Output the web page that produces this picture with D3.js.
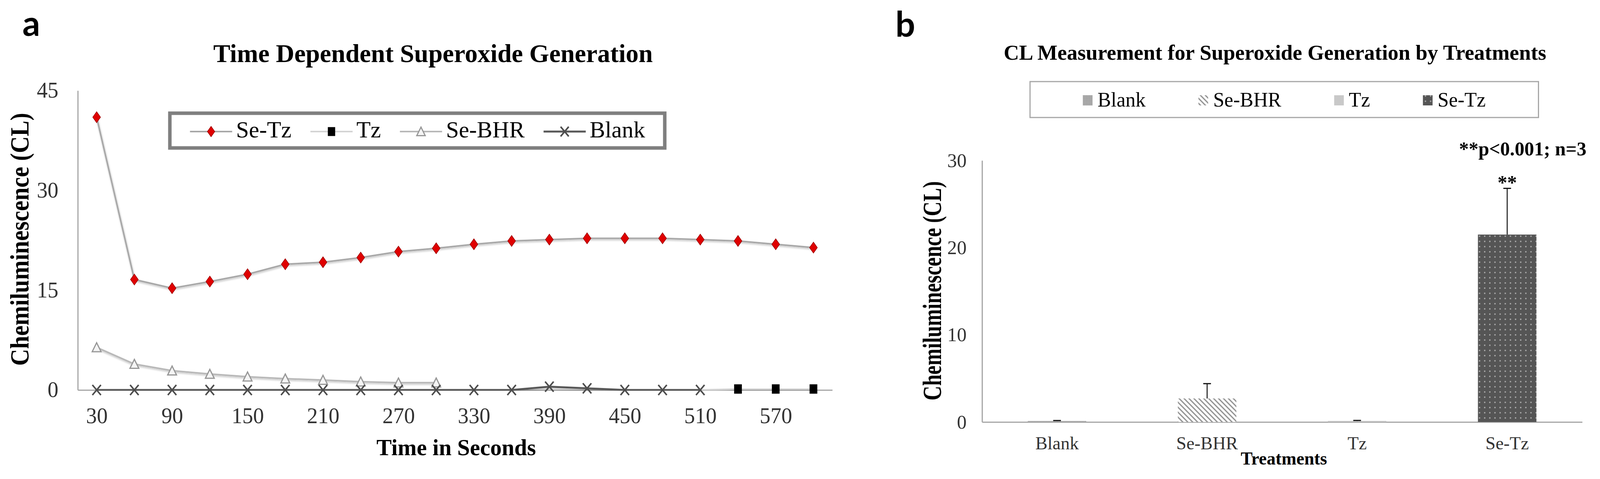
<!DOCTYPE html>
<html>
<head>
<meta charset="utf-8">
<script src="https://cdn.jsdelivr.net/npm/d3@7"></script>
<style>
html,body{margin:0;padding:0;overflow:hidden;background:#fff;width:100%;height:100%}
svg{display:block;width:100vw;height:100vh}
text{font-family:"Liberation Serif","Times New Roman",serif}
.panel{font-family:Lato,"Open Sans",sans-serif;font-weight:700;font-size:90px;fill:#000}
</style>
</head>
<body>
<svg id="chart" viewBox="0 0 4135 1227" preserveAspectRatio="none"></svg>
<script>
// panel a: time course
var times = [30,60,90,120,150,180,210,240,270,300,330,360,390,420,450,480,510,540,570,600];
var tickTimes = [30,90,150,210,270,330,390,450,510,570];
var seTz = [41.0,16.6,15.3,16.3,17.4,18.9,19.2,19.9,20.8,21.3,21.9,22.4,22.6,22.8,22.8,22.8,22.6,22.4,21.9,21.4];
var seBhr = [6.4,3.9,2.9,2.4,2.0,1.7,1.5,1.25,1.1,1.1];           // 30..300
var blank = [0,0,0,0,0,0,0,0,0,0,0,0,0.5,0.25,0,0,0];            // 30..510
var tzTimes = [510,540,570,600];
var tz = [0,0.15,0.15,0.15];
var yTicksA = [0,15,30,45];
var seriesA = ["Se-Tz","Tz","Se-BHR","Blank"];

// panel b: bars
var treatments = ["Blank","Se-BHR","Tz","Se-Tz"];
var means = [0.12,2.7,0.12,21.5];
var errs = [0.05,1.7,0.06,5.3];
var yTicksB = [0,10,20,30];

var svg = d3.select("#chart");
var defs = svg.append("defs");

var hatch = defs.append("pattern").attr("id","hatch").attr("patternUnits","userSpaceOnUse")
  .attr("width",9).attr("height",9).attr("patternTransform","rotate(-45)");
hatch.append("rect").attr("width",9).attr("height",9).attr("fill","#fff");
hatch.append("line").attr("x1",2).attr("y1",0).attr("x2",2).attr("y2",9)
  .attr("stroke","#8a8a8a").attr("stroke-width",3);

var dots = defs.append("pattern").attr("id","dots").attr("patternUnits","userSpaceOnUse")
  .attr("width",13.3).attr("height",13.3);
dots.append("rect").attr("width",13.3).attr("height",13.3).attr("fill","#555");
dots.append("rect").attr("x",5).attr("y",5).attr("width",3.2).attr("height",3.2).attr("fill","#b5b5b5");

var fine = defs.append("pattern").attr("id","fine").attr("patternUnits","userSpaceOnUse")
  .attr("width",4).attr("height",4);
fine.append("rect").attr("width",4).attr("height",4).attr("fill","#b0b0b0");
fine.append("rect").attr("width",2).attr("height",2).attr("fill","#8c8c8c");

var shadow = defs.append("filter").attr("id","sh").attr("x","-5%").attr("y","-20%").attr("width","110%").attr("height","140%");
shadow.append("feDropShadow").attr("dx",1).attr("dy",3).attr("stdDeviation",2).attr("flood-color","#000").attr("flood-opacity",0.25);

var styles = {
  "Se-Tz": {line:"#a8a8a8", w:4, shape:"diamond"},
  "Tz": {line:"#d4d4d4", w:4, shape:"square"},
  "Se-BHR": {line:"#b8b8b8", w:4, shape:"triangle"},
  "Blank": {line:"#595959", w:5, shape:"cross"}
};

function marker(g, shape, x, y, k) {
  k = k || 1;
  if (shape === "diamond") {
    g.append("path").attr("d","M"+x+","+(y-14*k)+"L"+(x+10*k)+","+y+"L"+x+","+(y+14*k)+"L"+(x-10*k)+","+y+"Z")
      .attr("fill","#e00000").attr("stroke","#a00000").attr("stroke-width",1.5);
  } else if (shape === "triangle") {
    g.append("path").attr("d","M"+x+","+(y-12*k)+"L"+(x+11.5*k)+","+(y+11*k)+"L"+(x-11.5*k)+","+(y+11*k)+"Z")
      .attr("fill","#f4f4f4").attr("stroke","#969696").attr("stroke-width",3);
  } else if (shape === "cross") {
    g.append("path").attr("d","M"+(x-11*k)+","+(y-13*k)+"L"+(x+11*k)+","+(y+13*k)+"M"+(x+11*k)+","+(y-13*k)+"L"+(x-11*k)+","+(y+13*k))
      .attr("stroke","#4d4d4d").attr("stroke-width",4).attr("fill","none");
  } else {
    g.append("rect").attr("x",x-10*k).attr("y",y-12*k).attr("width",20*k).attr("height",24*k).attr("fill","#000");
  }
}

// ---------------- panel a ----------------
var ga = svg.append("g");
var ax = d3.scalePoint().domain(times).range([201,2151]).padding(0.5);
var ay = d3.scaleLinear().domain([0,45]).range([999,232]);

ga.append("text").attr("class","panel").attr("x",58).attr("y",92).text("a");
ga.append("text").attr("x",1119).attr("y",159).attr("text-anchor","middle")
  .style("font-size","66px").style("font-weight","bold").text("Time Dependent Superoxide Generation");

var yAxA = ga.append("g").attr("transform","translate(201,0)")
  .call(d3.axisLeft(ay).tickValues(yTicksA).tickSize(0).tickPadding(50));
var xAxA = ga.append("g").attr("transform","translate(0,999)")
  .call(d3.axisBottom(ax).tickValues(tickTimes).tickSize(0).tickPadding(45));
[yAxA, xAxA].forEach(function(a){
  a.attr("font-family",null).attr("font-size",null);
  a.select(".domain").attr("stroke","#a6a6a6").attr("stroke-width",3);
  a.selectAll("text").style("font-size","56px").attr("fill","#333");
});

ga.append("text").attr("transform","translate(74,613) rotate(-90) scale(1,1.15)")
  .attr("text-anchor","middle").style("font-size","60px").style("font-weight","bold")
  .text("Chemiluminescence (CL)");
ga.append("text").attr("x",1179).attr("y",1166).attr("text-anchor","middle")
  .style("font-size","59px").style("font-weight","bold").text("Time in Seconds");

var lineA = d3.line().x(function(d){return ax(d[0]);}).y(function(d){return ay(d[1]);});
var dataA = {
  "Se-Tz": d3.zip(times, seTz),
  "Tz": d3.zip(tzTimes, tz),
  "Se-BHR": d3.zip(times.slice(0, seBhr.length), seBhr),
  "Blank": d3.zip(times.slice(0, blank.length), blank)
};
seriesA.forEach(function(name){
  var st = styles[name];
  var g = ga.append("g");
  g.append("path").attr("d", lineA(dataA[name])).attr("fill","none")
    .attr("stroke", st.line).attr("stroke-width", st.w).attr("filter","url(#sh)");
  dataA[name].forEach(function(d, i){
    if (name === "Tz" && i === 0) return; // first Tz point sits under the Blank marker
    marker(g, st.shape, ax(d[0]), ay(d[1]));
  });
});

// legend a
ga.append("rect").attr("x",439).attr("y",290).attr("width",1279).attr("height",89)
  .attr("fill","#fff").attr("stroke","#7f7f7f").attr("stroke-width",9);
var lx = 491;
seriesA.forEach(function(name){
  var st = styles[name];
  var g = ga.append("g").attr("transform","translate("+lx+",0)");
  g.append("line").attr("x1",0).attr("x2",109).attr("y1",337).attr("y2",337)
    .attr("stroke", st.line).attr("stroke-width", st.w);
  marker(g, st.shape, 54.5, 337, 0.95);
  var t = g.append("text").attr("x",119).attr("y",352).style("font-size","60px").text(name);
  lx += 119 + t.node().getComputedTextLength() + 49;
});

// ---------------- panel b ----------------
var gb = svg.append("g");
var bx = d3.scaleBand().domain(treatments).range([2538,4089]);
var by = d3.scaleLinear().domain([0,30]).range([1081,411]);
var barW = bx.bandwidth() * 0.39;
var fills = {"Blank":"url(#fine)","Se-BHR":"url(#hatch)","Tz":"#c4c4c4","Se-Tz":"url(#dots)"};

gb.append("text").attr("class","panel").attr("x",2314).attr("y",94).text("b");
gb.append("text").attr("x",3295).attr("y",153).attr("text-anchor","middle")
  .style("font-size","55px").style("font-weight","bold")
  .text("CL Measurement for Superoxide Generation by Treatments");

var yAxB = gb.append("g").attr("transform","translate(2538,0)")
  .call(d3.axisLeft(by).tickValues(yTicksB).tickSize(0).tickPadding(40));
var xAxB = gb.append("g").attr("transform","translate(0,1081)")
  .call(d3.axisBottom(bx).tickSize(0).tickPadding(37));
[yAxB, xAxB].forEach(function(a){
  a.attr("font-family",null).attr("font-size",null);
  a.select(".domain").attr("stroke","#a6a6a6").attr("stroke-width",3);
  a.selectAll("text").attr("fill","#333");
});
yAxB.selectAll("text").style("font-size","50px");
xAxB.selectAll("text").style("font-size","47px");

gb.append("text").attr("transform","translate(2432,745) rotate(-90) scale(1,1.3)")
  .attr("text-anchor","middle").style("font-size","52px").style("font-weight","bold")
  .text("Chemiluminescence (CL)");
gb.append("text").attr("x",3318).attr("y",1190).attr("text-anchor","middle")
  .style("font-size","46px").style("font-weight","bold").text("Treatments");

gb.selectAll("rect.bar").data(treatments).enter().append("rect").attr("class","bar")
  .attr("x", function(d){return bx(d) + (bx.bandwidth()-barW)/2;})
  .attr("y", function(d,i){return by(means[i]);})
  .attr("width", barW)
  .attr("height", function(d,i){return by(0) - by(means[i]);})
  .attr("fill", function(d){return fills[d];});

treatments.forEach(function(d, i){
  var cx = bx(d) + bx.bandwidth()/2;
  var yt = by(means[i] + errs[i]);
  gb.append("line").attr("x1",cx).attr("x2",cx).attr("y1",by(means[i])).attr("y2",yt)
    .attr("stroke","#111").attr("stroke-width",2.5);
  gb.append("line").attr("x1",cx-10).attr("x2",cx+10).attr("y1",yt).attr("y2",yt)
    .attr("stroke","#111").attr("stroke-width",3);
});

var last = treatments[treatments.length-1];
gb.append("text").attr("x", bx(last) + bx.bandwidth()/2)
  .attr("y", by(means[3] + errs[3]) + 2).attr("text-anchor","middle")
  .style("font-size","50px").style("font-weight","bold").text("**");
gb.append("text").attr("x",4100).attr("y",398).attr("text-anchor","end")
  .style("font-size","50px").style("font-weight","bold").text("**p<0.001; n=3");

// legend b: items spread evenly across the box
var boxX = 2662, boxW = 1314;
gb.append("rect").attr("x",boxX).attr("y",209).attr("width",boxW).attr("height",92)
  .attr("fill","#fff").attr("stroke","#a6a6a6").attr("stroke-width",3);
var items = treatments.map(function(name){
  var g = gb.append("g");
  g.append("rect").attr("x",0).attr("y",244).attr("width",25).attr("height",26)
    .attr("fill", name === "Tz" ? "#c8c8c8" : fills[name]);
  var t = g.append("text").attr("x",38).attr("y",273).style("font-size","52px").text(name);
  return {g:g, w:38 + t.node().getComputedTextLength()};
});
var gap = (boxW - d3.sum(items, function(d){return d.w;})) / (items.length + 1);
var px = boxX + gap;
items.forEach(function(it){
  it.g.attr("transform","translate("+px+",0)");
  px += it.w + gap;
});
</script>
</body>
</html>
